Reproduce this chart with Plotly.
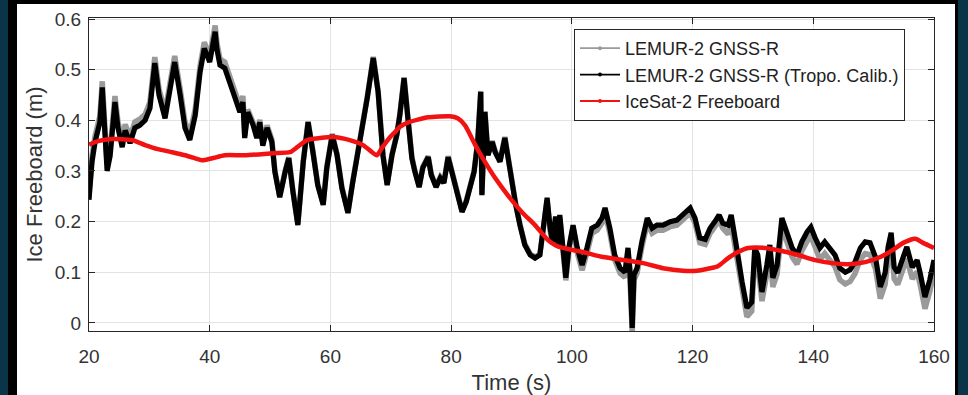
import plotly.graph_objects as go

# ---------------- data ----------------
time_s = [
    20.0, 20.5, 21.0, 21.8, 22.2, 22.5, 23.0, 23.5, 24.3, 24.8, 25.5, 26.0, 26.8, 27.6, 28.4, 29.3,
    30.1, 30.9, 31.6, 32.6, 33.4, 34.2, 35.1, 35.9, 36.7, 37.6, 38.4, 39.1, 40.0, 40.5, 40.9, 41.2,
    41.7, 42.5, 43.4, 44.2, 45.0, 45.5,
    45.8, 46.3, 47.2, 47.8, 48.3, 48.8, 49.5, 50.3,
    50.8, 51.6, 52.5, 53.1, 53.8, 54.6, 55.5, 56.3, 57.1, 57.9, 58.8, 59.4, 60.3, 61.1, 61.9, 62.9,
    63.7, 64.9, 66.1, 67.1, 67.9, 68.7, 69.4, 70.2, 71.0, 71.5, 72.2, 72.9, 73.5, 74.0, 74.7, 75.3,
    76.2, 76.7, 77.5, 78.2, 78.8, 79.5, 80.1, 81.0, 81.8, 82.5, 83.1, 83.8, 84.4, 84.9, 85.1, 85.6,
    86.1, 86.8, 87.3, 88.1, 88.9, 89.4, 90.1, 90.7, 91.4, 92.2, 93.1, 93.9, 94.7,
    95.4, 95.9, 96.4, 96.8, 97.3, 97.7, 98.0, 98.5, 99.0, 99.5, 100.2,
    100.9, 101.7, 102.5, 103.3, 104.2, 105.0, 105.5, 106.3, 107.1, 108.0, 108.8, 109.3, 109.6, 110.0,
    110.3, 110.8, 111.6, 112.5, 113.3, 114.1, 115.1, 116.3, 117.4, 118.4, 119.6, 120.4, 121.2, 122.1,
    122.9, 123.7, 124.4, 125.0,
    125.9, 126.4, 127.0, 127.5, 128.2, 129.0, 129.8, 130.3, 130.8, 131.5, 132.3, 132.8, 133.3, 134.0,
    134.8, 135.6, 136.5, 137.3, 138.1, 139.0, 139.6, 140.3,
    141.1, 141.9, 142.8, 143.6, 144.4, 145.3, 146.1, 146.9, 147.8, 148.6, 149.4, 150.3, 151.1, 151.9,
    152.4, 152.9, 153.4, 154.0, 154.9, 155.5, 156.4, 157.2, 157.7, 158.5, 159.3, 160.0,
]

lemur_tropo = [
    0.243, 0.318, 0.357, 0.396, 0.465, 0.410, 0.300, 0.330, 0.436, 0.385, 0.347, 0.380, 0.355, 0.385, 0.390, 0.400,
    0.424, 0.513, 0.450, 0.404, 0.456, 0.515, 0.450, 0.385, 0.361, 0.410, 0.495, 0.542, 0.515, 0.550, 0.575, 0.540,
    0.509, 0.503, 0.475, 0.444, 0.416, 0.436,
    0.365, 0.416, 0.390, 0.365, 0.396, 0.350, 0.385, 0.357,
    0.298, 0.248, 0.298, 0.325, 0.258, 0.193, 0.318, 0.396, 0.337, 0.272, 0.233, 0.306, 0.371, 0.331, 0.266, 0.217,
    0.278, 0.357, 0.444, 0.523, 0.456, 0.331, 0.272, 0.331, 0.371, 0.410, 0.483, 0.396, 0.325, 0.298, 0.268, 0.306,
    0.327, 0.292, 0.268, 0.286, 0.276, 0.327, 0.298, 0.252, 0.219, 0.239, 0.266, 0.298, 0.357, 0.456, 0.252, 0.416,
    0.331, 0.357, 0.337, 0.318, 0.365, 0.325, 0.266, 0.233, 0.193, 0.154, 0.134, 0.128, 0.134,
    0.213, 0.247, 0.187, 0.160, 0.210, 0.154, 0.213, 0.160, 0.089, 0.148, 0.193,
    0.148, 0.114, 0.148, 0.187, 0.193, 0.207, 0.227, 0.187, 0.134, 0.108, 0.100, 0.148, 0.108, -0.010,
    0.095, 0.108, 0.160, 0.207, 0.187, 0.193, 0.193, 0.200, 0.203, 0.213, 0.227, 0.207, 0.168, 0.165,
    0.187, 0.200, 0.213, 0.197,
    0.193, 0.213, 0.174, 0.134, 0.081, 0.030, 0.041, 0.148, 0.134, 0.061, 0.114, 0.154, 0.089, 0.114,
    0.207, 0.180, 0.148, 0.134, 0.160, 0.180, 0.189, 0.168,
    0.148, 0.160, 0.148, 0.134, 0.108, 0.100, 0.105, 0.120, 0.148, 0.160, 0.158, 0.130, 0.071, 0.099,
    0.150, 0.178, 0.110, 0.099, 0.130, 0.150, 0.110, 0.124, 0.099, 0.051, 0.085, 0.124,
]

lemur_raw = [
    0.255, 0.330, 0.369, 0.408, 0.477, 0.422, 0.312, 0.342, 0.448, 0.397, 0.359, 0.392, 0.367, 0.397, 0.402, 0.412,
    0.436, 0.525, 0.462, 0.416, 0.468, 0.527, 0.462, 0.397, 0.373, 0.422, 0.507, 0.554, 0.527, 0.562, 0.587, 0.552,
    0.521, 0.515, 0.487, 0.456, 0.428, 0.448,
    0.370, 0.421, 0.395, 0.370, 0.401, 0.355, 0.390, 0.362,
    0.300, 0.250, 0.300, 0.327, 0.260, 0.195, 0.320, 0.398, 0.339, 0.274, 0.235, 0.308, 0.373, 0.333, 0.268, 0.219,
    0.280, 0.359, 0.446, 0.525, 0.458, 0.333, 0.274, 0.333, 0.373, 0.412, 0.485, 0.398, 0.327, 0.300, 0.270, 0.308,
    0.329, 0.294, 0.270, 0.288, 0.278, 0.329, 0.300, 0.254, 0.221, 0.241, 0.268, 0.300, 0.359, 0.458, 0.254, 0.418,
    0.333, 0.359, 0.339, 0.320, 0.367, 0.327, 0.268, 0.235, 0.195, 0.156, 0.136, 0.130, 0.136,
    0.208, 0.242, 0.182, 0.155, 0.205, 0.149, 0.208, 0.155, 0.084, 0.143, 0.188,
    0.138, 0.104, 0.138, 0.177, 0.183, 0.197, 0.217, 0.177, 0.124, 0.098, 0.090, 0.138, 0.098, -0.020,
    0.085, 0.098, 0.150, 0.197, 0.177, 0.183, 0.183, 0.190, 0.193, 0.203, 0.217, 0.197, 0.158, 0.155,
    0.177, 0.190, 0.203, 0.187,
    0.175, 0.195, 0.156, 0.116, 0.063, 0.012, 0.023, 0.130, 0.116, 0.043, 0.096, 0.136, 0.071, 0.096,
    0.189, 0.162, 0.130, 0.116, 0.142, 0.162, 0.171, 0.150,
    0.125, 0.137, 0.125, 0.111, 0.085, 0.077, 0.082, 0.097, 0.125, 0.137, 0.135, 0.107, 0.048, 0.076,
    0.127, 0.155, 0.087, 0.076, 0.107, 0.127, 0.087, 0.101, 0.076, 0.028, 0.062, 0.101,
]

icesat_time = [
    20.0, 21.5, 23.8, 27.1, 29.3, 31.4, 33.8, 35.9, 37.6, 38.7, 40.4, 42.5, 45.8, 50.5, 53.3, 54.5,
    56.1, 58.3, 60.4, 63.2, 65.4, 66.9, 67.7, 68.5, 69.9, 70.7, 71.5, 72.9, 76.2, 79.8, 81.1, 82.3,
    84.0, 85.6, 87.3, 89.4, 91.7, 93.9, 96.0, 97.2, 98.5, 101.8, 105.2, 108.5, 111.8, 115.1, 118.4,
    120.7, 122.9, 124.2, 125.9, 127.5, 129.2, 132.0, 134.8, 137.5, 140.3, 143.1, 145.8, 148.6, 151.1,
    153.2, 154.9, 156.9, 158.2, 160.0,
]
icesat_freeboard = [
    0.352, 0.359, 0.363, 0.361, 0.351, 0.343, 0.337, 0.331, 0.325, 0.321, 0.325, 0.331, 0.331, 0.335, 0.337, 0.347,
    0.361, 0.365, 0.367, 0.361, 0.351, 0.337, 0.331, 0.345, 0.367, 0.377, 0.387, 0.396, 0.406, 0.408, 0.404, 0.390,
    0.351, 0.318, 0.286, 0.252, 0.219, 0.193, 0.164, 0.154, 0.148, 0.140, 0.130, 0.124, 0.118, 0.108, 0.103,
    0.103, 0.108, 0.112, 0.128, 0.140, 0.148, 0.148, 0.142, 0.134, 0.124, 0.118, 0.116, 0.120, 0.130,
    0.144, 0.158, 0.166, 0.158, 0.148,
]

y_ticks = [0, 0.1, 0.2, 0.3, 0.4, 0.5, 0.6]
y_tick_text = ["0", "0.1", "0.2", "0.3", "0.4", "0.5", "0.6"]
x_ticks = [20, 40, 60, 80, 100, 120, 140, 160]

names = ["LEMUR-2 GNSS-R", "LEMUR-2 GNSS-R (Tropo. Calib.)", "IceSat-2 Freeboard"]
colors = ["#9a9a9a", "#000000", "#f21212"]

# ---------------- figure ----------------
FONT = "Liberation Sans, Arial, Helvetica, sans-serif"
fig = go.Figure()

fig.add_trace(go.Scatter(x=time_s, y=lemur_raw, mode="lines", showlegend=False,
                         line=dict(color=colors[0], width=5.5)))
fig.add_trace(go.Scatter(x=time_s, y=lemur_tropo, mode="lines", showlegend=False,
                         line=dict(color=colors[1], width=5.2)))
fig.add_trace(go.Scatter(x=icesat_time, y=icesat_freeboard, mode="lines", showlegend=False,
                         line=dict(color=colors[2], width=4.5, shape="spline", smoothing=0.6)))

# legend-only entries (thin line with a dot, MATLAB style)
for n, c in zip(names, colors):
    fig.add_trace(go.Scatter(x=[None], y=[None], mode="lines+markers", name=n,
                             line=dict(color=c, width=1.8), marker=dict(color=c, size=4)))

# plot area in pixels: left 89, right 934, top 18, bottom 331
L, R, T, B, W, H = 89, 934, 18, 331, 968, 395
pw, ph = R - L, B - T


def px(X):
    return (X - L) / pw


def py(Y):
    return (B - Y) / ph


NAVY = "#0a3447"
shapes = [
    dict(type="rect", xref="paper", yref="paper", x0=px(17), x1=px(955), y0=py(H), y1=py(4),
         fillcolor="white", line=dict(width=0), layer="below"),
    dict(type="rect", xref="paper", yref="paper", x0=px(8), x1=px(17), y0=py(H), y1=py(0),
         fillcolor="black", line=dict(width=0), layer="below"),
    dict(type="rect", xref="paper", yref="paper", x0=px(8), x1=px(958), y0=py(4), y1=py(0),
         fillcolor="black", line=dict(width=0), layer="below"),
    dict(type="rect", xref="paper", yref="paper", x0=px(955), x1=px(958), y0=py(H), y1=py(0),
         fillcolor="black", line=dict(width=0), layer="below"),
]

axis_common = dict(
    showline=True, linecolor="#262626", linewidth=1, mirror="ticks",
    ticks="inside", ticklen=6, tickcolor="#262626", tickwidth=1,
    showgrid=True, gridcolor="#e3e3e3", gridwidth=1, zeroline=False,
    automargin=False,
    tickfont=dict(family=FONT, size=19, color="#333333"),
    title_font=dict(family=FONT, size=22, color="#333333"),
)

fig.update_layout(
    width=W, height=H,
    margin=dict(l=L, r=W - R, t=T, b=H - B, pad=0),
    paper_bgcolor=NAVY, plot_bgcolor="white",
    font=dict(family=FONT, color="#333333"),
    shapes=shapes,
    xaxis=dict(range=[20, 160], tickvals=x_ticks, ticklabelstandoff=8,
               title=dict(text="Time (s)", standoff=8), **axis_common),
    yaxis=dict(range=[-0.016, 0.602], tickvals=y_ticks, ticktext=y_tick_text, ticklabelstandoff=3,
               title=dict(text="Ice Freeboard (m)", standoff=6), **axis_common),
    legend=dict(x=px(574), y=py(29), xanchor="left", yanchor="top",
                bgcolor="white", bordercolor="#262626", borderwidth=1,
                font=dict(family=FONT, size=18, color="#222222"),
                itemwidth=40, tracegroupgap=0),
)

fig.write_html("out.html", config={"displayModeBar": False},
               post_script="document.body.style.margin='0';document.body.style.overflow='hidden';")
